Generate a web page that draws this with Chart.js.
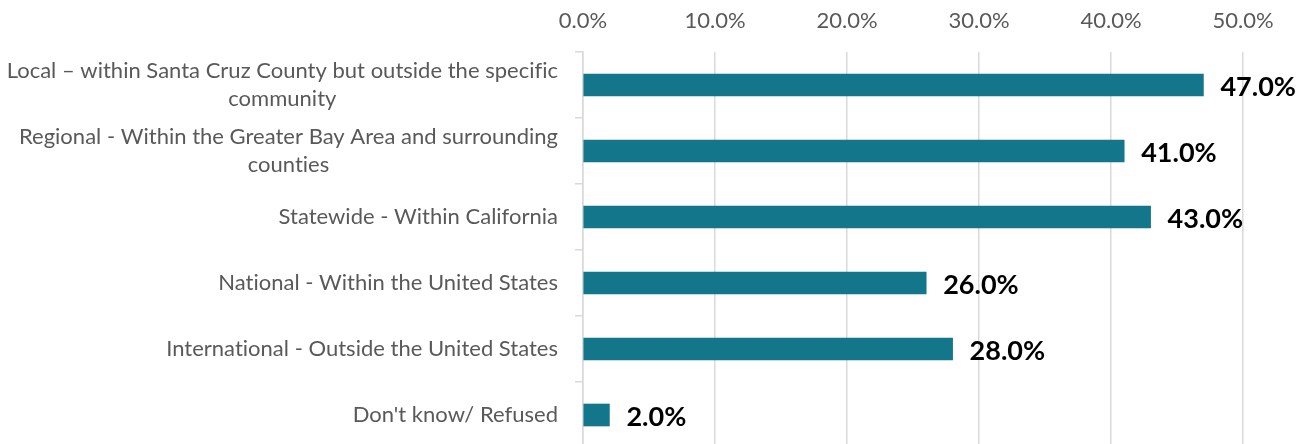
<!DOCTYPE html>
<html>
<head>
<meta charset="utf-8">
<script src="https://cdn.jsdelivr.net/npm/chart.js@4.4.0/dist/chart.umd.min.js"></script>
<style>
  html, body { margin: 0; padding: 0; background: #fff; overflow: hidden; }
  #wrap { width: 1311px; height: 448px; position: relative; }
</style>
</head>
<body>
<div id="wrap"><canvas id="grafico"></canvas></div>
<script>
const categorias = [
  ["Local – within Santa Cruz County but outside the specific", "community"],
  ["Regional - Within the Greater Bay Area and surrounding", "counties"],
  "Statewide - Within California",
  "National - Within the United States",
  "International - Outside the United States",
  "Don't know/ Refused"
];
const valores = [47.0, 41.0, 43.0, 26.0, 28.0, 2.0];
const ticksX = [0, 10, 20, 30, 40, 50];

const corBarra = "#13768a";
const fonte = "Lato, 'Open Sans', sans-serif";

// desenha os rótulos de valor no fim de cada barra
const rotulosValor = {
  id: "rotulosValor",
  afterDatasetsDraw(chart) {
    const ctx = chart.ctx;
    const meta = chart.getDatasetMeta(0);
    ctx.save();
    ctx.font = "bold 27px " + fonte;
    ctx.fillStyle = "#000";
    ctx.textAlign = "left";
    ctx.textBaseline = "middle";
    meta.data.forEach((barra, i) => {
      ctx.fillText(valores[i].toFixed(1) + "%", barra.x + 17, barra.y + 2);
    });
    ctx.restore();
  }
};

// rótulos das categorias: bloco alinhado à direita, linhas centradas (como no Excel)
const rotulosCategoria = {
  id: "rotulosCategoria",
  afterDraw(chart) {
    const ctx = chart.ctx;
    const escala = chart.scales.y;
    const direita = escala.right - 25;
    const altLinha = 28;
    ctx.save();
    ctx.font = "22px " + fonte;
    ctx.letterSpacing = "0.01px"; // evita as ligaduras fi/ti do Lato
    ctx.fillStyle = "#595959";
    ctx.textAlign = "center";
    ctx.textBaseline = "middle";
    categorias.forEach((cat, i) => {
      const linhas = Array.isArray(cat) ? cat : [cat];
      const largura = Math.max(...linhas.map(l => ctx.measureText(l).width));
      const cx = direita - largura / 2;
      const y = escala.getPixelForTick(i);
      const y0 = y - (linhas.length - 1) * altLinha / 2;
      linhas.forEach((l, j) => ctx.fillText(l, cx, y0 + j * altLinha));
    });
    ctx.restore();
  }
};

new Chart(document.getElementById("grafico"), {
  type: "bar",
  data: {
    labels: categorias,
    datasets: [{
      data: valores,
      backgroundColor: corBarra,
      borderWidth: 0,
      barThickness: 22
    }]
  },
  options: {
    indexAxis: "y",
    responsive: true,
    maintainAspectRatio: false,
    animation: false,
    layout: { padding: { top: 0, right: 68, left: 0, bottom: 0 } },
    plugins: { legend: { display: false }, tooltip: { enabled: false } },
    scales: {
      x: {
        position: "top",
        min: 0,
        max: 50,
        afterBuildTicks(axis) { axis.ticks = ticksX.map(v => ({ value: v })); },
        afterFit(axis) { axis.height = 52; },
        ticks: {
          color: "#595959",
          font: { family: fonte, size: 22 },
          padding: 18,
          callback: v => v.toFixed(1) + "%"
        },
        grid: { color: "#d9d9d9", lineWidth: 1.5, drawTicks: false },
        border: { display: false }
      },
      y: {
        afterFit(axis) {
          axis.width = 583;
          axis.paddingTop = 0;
          axis.paddingBottom = 0;
        },
        ticks: { display: false },
        grid: {
          offset: true,
          drawOnChartArea: false,
          tickLength: 8,
          tickColor: "#d9d9d9",
          lineWidth: 1.5
        },
        border: { display: true, color: "#d9d9d9", width: 1.5 }
      }
    }
  },
  plugins: [rotulosValor, rotulosCategoria]
});
</script>
</body>
</html>
